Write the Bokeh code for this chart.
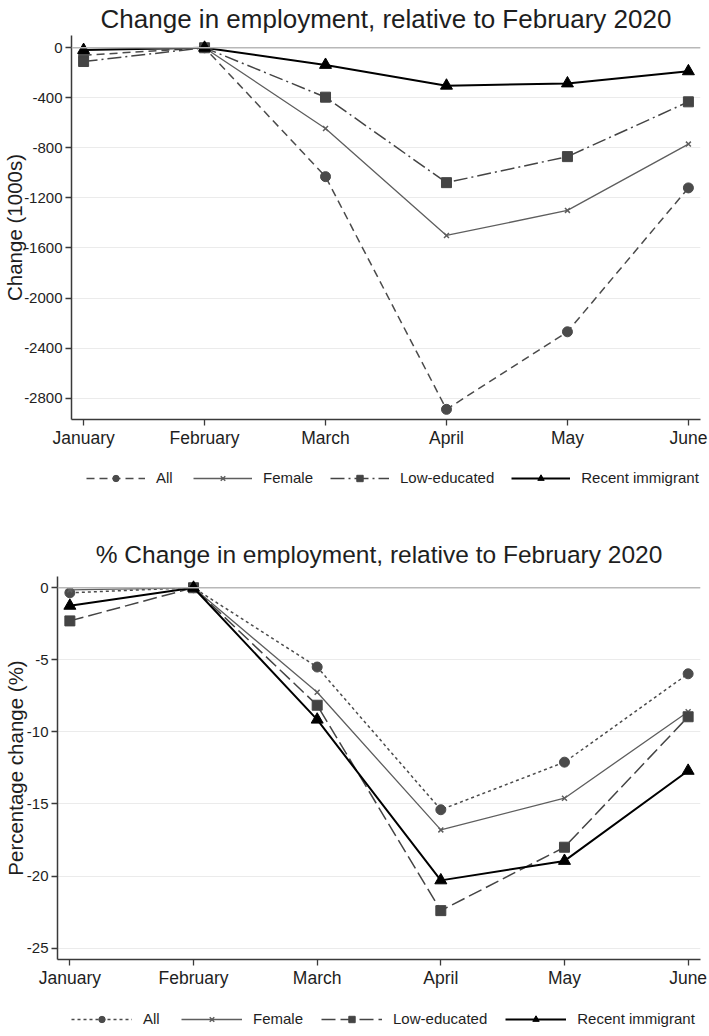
from bokeh.plotting import figure
from bokeh.models import Range1d, FixedTicker, Span, Legend, LegendItem
from bokeh.layouts import column
from bokeh.embed import file_html
from bokeh.resources import INLINE

# ---------------- data ----------------
months = ["January", "February", "March", "April", "May", "June"]
month_idx = [0, 1, 2, 3, 4, 5]
series_names = ["All", "Female", "Low-educated", "Recent immigrant"]

# Change in employment (1000s), relative to February 2020
level_all = [-60, 0, -1030, -2890, -2270, -1120]
level_female = [-15, 0, -645, -1500, -1300, -770]
level_lowedu = [-110, 0, -395, -1078, -870, -432]
level_recent = [-18, 0, -137, -303, -285, -188]

# % change in employment, relative to February 2020
pct_all = [-0.35, 0, -5.5, -15.4, -12.1, -5.97]
pct_female = [-0.15, 0, -7.25, -16.8, -14.6, -8.6]
pct_lowedu = [-2.3, 0, -8.15, -22.4, -18.0, -8.95]
pct_recent = [-1.25, 0, -9.15, -20.3, -18.95, -12.7]

level_ticks = [0, -400, -800, -1200, -1600, -2000, -2400, -2800]
pct_ticks = [0, -5, -10, -15, -20, -25]

FONT = "Liberation Sans"
TXT = "#1e1e1e"
AX = "#3a3a3a"

STYLES = [
    dict(color="#4b4b4b", width=1.5, marker="circle", size=10),
    dict(color="#5e5e5e", width=1.3, marker="x", size=7),
    dict(color="#444444", width=1.5, marker="square", size=10),
    dict(color="#000000", width=2.0, marker="triangle", size=12),
]


def draw_series(p, ys, dashes):
    out = []
    for y, st, dash in zip(ys, STYLES, dashes):
        ln = p.line(month_idx, y, line_color=st["color"], line_width=st["width"],
                    line_dash=dash)
        if st["marker"] == "x":
            sc = p.scatter(month_idx, y, marker="x", size=st["size"],
                           line_color=st["color"], line_width=1.5)
        else:
            sc = p.scatter(month_idx, y, marker=st["marker"], size=st["size"],
                           fill_color=st["color"], line_color=st["color"])
        out.append((ln, sc))
    return out


def make_fig(title, title_size, title_offset, ylabel, ys, yticks, yrange,
             dashes, height, min_top, min_bottom, min_left, title_standoff,
             label_standoff):
    p = figure(width=709, height=height, output_backend="svg",
               toolbar_location=None, x_range=Range1d(-0.1, 5.1),
               y_range=Range1d(*yrange), frame_align=False,
               min_border_top=min_top, min_border_bottom=min_bottom,
               min_border_left=min_left, min_border_right=9)
    p.title.text = title
    p.title.align = "center"
    p.title.offset = title_offset
    p.title.text_font = FONT
    p.title.text_font_size = title_size
    p.title.text_font_style = "normal"
    p.title.text_color = TXT
    p.title.standoff = title_standoff
    p.outline_line_color = None

    p.xgrid.visible = False
    p.ygrid.ticker = FixedTicker(ticks=yticks)
    p.ygrid.grid_line_color = "#ebebeb"
    p.ygrid.grid_line_width = 1

    p.add_layout(Span(location=0, dimension="width", line_color="#b8b8b8",
                      line_width=1.6))

    p.xaxis.ticker = FixedTicker(ticks=month_idx)
    p.xaxis.major_label_overrides = {i: m for i, m in zip(month_idx, months)}
    p.yaxis.ticker = FixedTicker(ticks=yticks)
    p.yaxis.major_label_overrides = {t: str(t) for t in yticks}
    for ax in (p.xaxis, p.yaxis):
        ax.axis_line_color = AX
        ax.axis_line_width = 1.5
        ax.major_tick_line_color = AX
        ax.major_tick_line_width = 1.3
        ax.major_tick_out = 6
        ax.major_tick_in = 0
        ax.minor_tick_out = 0
        ax.minor_tick_in = 0
        ax.major_label_text_font = FONT
        ax.major_label_text_color = TXT
    p.xaxis.major_label_text_font_size = "17.5px"
    p.xaxis.major_label_standoff = 2
    p.yaxis.major_label_text_font_size = "15px"
    p.yaxis.major_label_standoff = 3
    p.yaxis.axis_label = ylabel
    p.yaxis.axis_label_text_font = FONT
    p.yaxis.axis_label_text_font_size = "20.5px"
    p.yaxis.axis_label_text_font_style = "normal"
    p.yaxis.axis_label_text_color = TXT
    p.yaxis.axis_label_standoff = label_standoff

    draw_series(p, ys, dashes)
    return p


def make_legend_fig(ys, dashes, height, loc, glyph_w, spacing):
    # legend strip: the same series, drawn outside the visible range,
    # so that only their legend entries show
    p = figure(width=709, height=height, output_backend="svg",
               toolbar_location=None, x_range=Range1d(100, 101),
               y_range=Range1d(100, 101), x_axis_type=None, y_axis_type=None,
               min_border=0, frame_align=False)
    p.outline_line_color = None
    p.grid.visible = False
    pairs = draw_series(p, ys, dashes)
    items = [LegendItem(label=n, renderers=list(r))
             for n, r in zip(series_names, pairs)]
    legend = Legend(items=items, orientation="horizontal", location=loc,
                    glyph_width=glyph_w, glyph_height=16, label_height=16,
                    label_standoff=11, spacing=spacing, padding=0, margin=0,
                    border_line_color=None, background_fill_alpha=0,
                    label_text_font=FONT, label_text_font_size="15px",
                    label_text_color=TXT)
    p.add_layout(legend)
    return p


top_ys = [level_all, level_female, level_lowedu, level_recent]
top_dash = ["8 5", "solid", "14 4 2 4", "solid"]
bot_ys = [pct_all, pct_female, pct_lowedu, pct_recent]
bot_dash = ["3 3", "solid", "14 5", "solid"]

p1 = make_fig("Change in employment, relative to February 2020", "26px", -5,
              "Change (1000s)", top_ys, level_ticks, (-2971, 98), top_dash,
              height=460, min_top=35, min_bottom=41, min_left=71,
              title_standoff=3, label_standoff=-5)
l1 = make_legend_fig(top_ys, top_dash, 48, (86, 22), 59, 17)

p2 = make_fig("% Change in employment, relative to February 2020", "24.5px", 0,
              "Percentage change (%)", bot_ys, pct_ticks, (-25.79, 0.78),
              bot_dash, height=492, min_top=68, min_bottom=41, min_left=57,
              title_standoff=17, label_standoff=-3)
l2 = make_legend_fig(bot_ys, bot_dash, 36, (71, 9), 61, 18)

layout = column(p1, l1, p2, l2, spacing=0)
open("out.html", "w").write(file_html(layout, INLINE))
